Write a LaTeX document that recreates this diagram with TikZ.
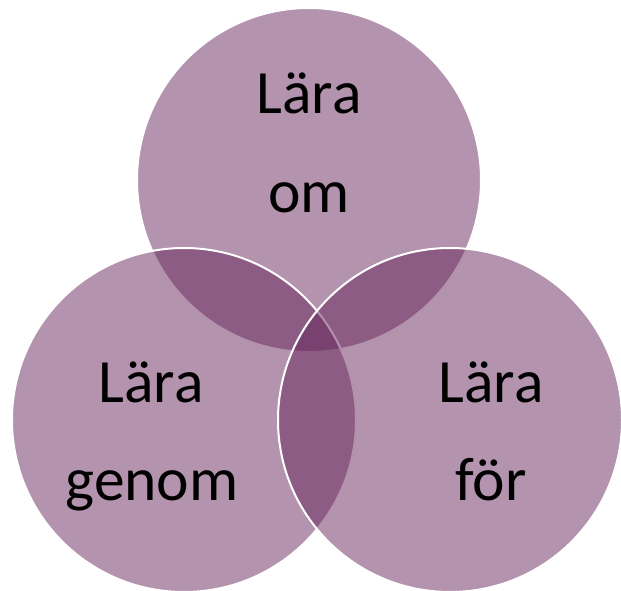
\documentclass[tikz,border=0pt]{standalone}
\usepackage{fontspec}
\setmainfont{Carlito}
\definecolor{vennfill}{RGB}{103,39,91}
\tikzset{
  venn/.style={circle, inner sep=0pt, outer sep=0pt, minimum size=344pt,
    fill=vennfill, fill opacity=0.5, draw=white, draw opacity=1, line width=2pt},
  lbl/.style={anchor=base, inner sep=0pt, text=black, text opacity=1,
    font=\fontsize{61.5}{72}\selectfont}
}
\begin{document}
\begin{tikzpicture}[x=1pt,y=-1pt]
\useasboundingbox (0,0) rectangle (621,591);
\node[venn] (top) at (309,180) {};
\node[venn] (left) at (184,420) {};
\node[venn] (right) at (450,420) {};
\node[lbl] (topA) at (309,114) {Lära};
\node[lbl] (topB) at (309,212) {om};
\node[lbl] (leftA) at (151,402) {Lära};
\node[lbl] (leftB) at (152,500) {genom};
\node[lbl] (rightA) at (491,402) {Lära};
\node[lbl] (rightB) at (491,500) {för};
\end{tikzpicture}
\end{document}
